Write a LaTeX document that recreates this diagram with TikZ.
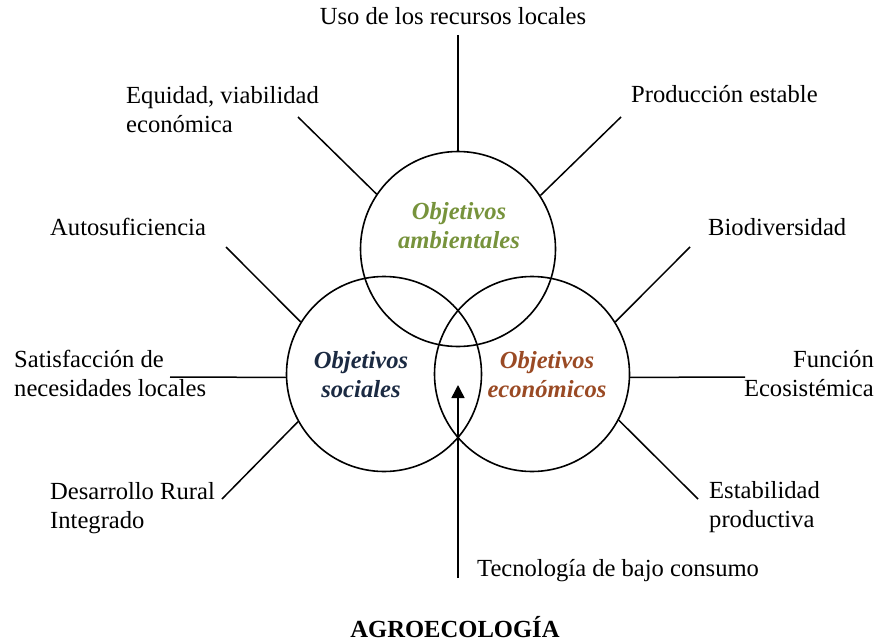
\documentclass[tikz,border=0pt]{standalone}
\usepackage{fontspec}
\setmainfont{Liberation Serif}
\usetikzlibrary{arrows.meta}
\definecolor{ambgreen}{HTML}{77933C}
\definecolor{socnavy}{HTML}{1B2A42}
\definecolor{ecobrown}{HTML}{9A4A24}
\tikzset{
  lbl/.style={inner sep=0pt, font=\fontsize{24.6}{29}\selectfont, align=left},
  obj/.style={inner sep=0pt, font=\fontsize{24.6}{29}\selectfont\bfseries\itshape, align=center},
  ring/.style={circle, draw, line width=1.6pt, minimum size=195pt, inner sep=0pt},
  conn/.style={line width=1.5pt},
}
\begin{document}
\begin{tikzpicture}[x=1pt, y=-1pt]
\useasboundingbox (0,0) rectangle (878,642);
% circles
\node[ring] (A) at (458,249) {};
\node[ring] (S) at (384,374) {};
\node[ring] (E) at (532,374) {};
% circle texts (base = last line baseline)
\node[obj, text=ambgreen, anchor=base] (tA) at (459,248) {Objetivos\\ambientales};
\node[obj, text=socnavy, anchor=base] (tS) at (361,397) {Objetivos\\sociales};
\node[obj, text=ecobrown, anchor=base] (tE) at (547,397) {Objetivos\\económicos};
% labels
\node[lbl, anchor=base] (uso) at (453,25) {Uso de los recursos locales};
\node[lbl, anchor=base west] (equ) at (126,132) {Equidad, viabilidad\\económica};
\node[lbl, anchor=base west] (pro) at (631,102) {Producción estable};
\node[lbl, anchor=base west] (aut) at (50,235) {Autosuficiencia};
\node[lbl, anchor=base west] (bio) at (708,235) {Biodiversidad};
\node[lbl, anchor=base west] (sat) at (14,396) {Satisfacción de\\necesidades locales};
\node[lbl, anchor=base east, align=right] (fun) at (874,396) {Función\\Ecosistémica};
\node[lbl, anchor=base west] (des) at (50,528) {Desarrollo Rural\\Integrado};
\node[lbl, anchor=base west] (est) at (709,527) {Estabilidad\\productiva};
\node[lbl, anchor=base west] (tec) at (477,576) {Tecnología de bajo consumo};
\node[lbl, anchor=base, font=\fontsize{24.6}{29}\selectfont\bfseries] (agro) at (455,637) {AGROECOLOGÍA};
% connector ends
\coordinate (cUso) at (458,35);
\coordinate (cEqu) at (298,117);
\coordinate (cPro) at (621,117);
\coordinate (cAut) at (226,247);
\coordinate (cBio) at (690,247);
\coordinate (cSat) at (170,377);
\coordinate (cFun) at (745,377);
\coordinate (cDes) at (222,499);
\coordinate (cEst) at (698,499);
\coordinate (cTecB) at (458,578);
\coordinate (cTecT) at (458,385);
% connectors
\draw[conn] (cUso) -- (A.90);
\draw[conn] (cEqu) -- (A.146);
\draw[conn] (cPro) -- (A.33);
\draw[conn] (cAut) -- (S.148);
\draw[conn] (cSat) -- (S.182);
\draw[conn] (cDes) -- (S.209.5);
\draw[conn] (cBio) -- (E.32);
\draw[conn] (cFun) -- (E.358);
\draw[conn] (cEst) -- (E.332);
\draw[conn, -{Triangle[length=13pt,width=13pt]}] (cTecB) -- (cTecT);
\end{tikzpicture}
\end{document}
